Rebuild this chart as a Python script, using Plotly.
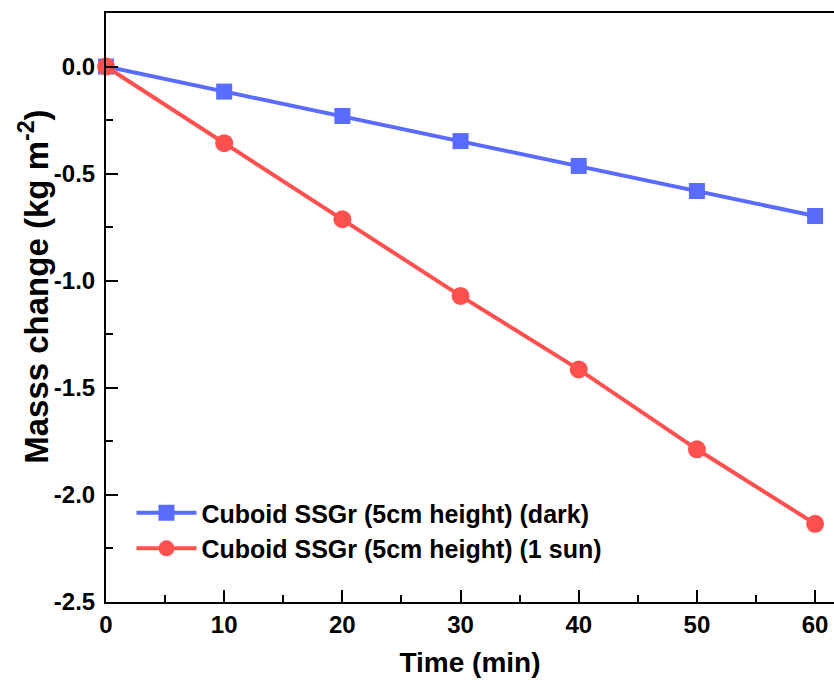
import plotly.graph_objects as go

# Evaporation test: mass change over time for a 5 cm cuboid SSGr
time_min = [0, 10, 20, 30, 40, 50, 60]
mass_dark = [0.0, -0.117, -0.231, -0.348, -0.464, -0.581, -0.698]
mass_sun = [0.0, -0.358, -0.713, -1.071, -1.414, -1.787, -2.135]

name_dark = "Cuboid SSGr (5cm height) (dark)"
name_sun = "Cuboid SSGr (5cm height) (1 sun)"

x_ticks = [0, 10, 20, 30, 40, 50, 60]
y_ticks = [0.0, -0.5, -1.0, -1.5, -2.0, -2.5]
y_tick_text = ["0.0", "-0.5", "-1.0", "-1.5", "-2.0", "-2.5"]

BLUE = "#5a6bff"
RED = "#ff5050"
FONT = "Liberation Sans, Arial, sans-serif"

fig = go.Figure()
fig.add_trace(go.Scatter(
    x=time_min, y=mass_dark, name=name_dark, mode="lines+markers",
    line=dict(color=BLUE, width=4),
    marker=dict(symbol="square", size=16, color=BLUE),
    cliponaxis=False,
))
fig.add_trace(go.Scatter(
    x=time_min, y=mass_sun, name=name_sun, mode="lines+markers",
    line=dict(color=RED, width=4),
    marker=dict(symbol="circle", size=18, color=RED),
    cliponaxis=False,
))

axis_common = dict(
    showline=True, linecolor="black", linewidth=2,
    ticks="inside", ticklen=12, tickwidth=2, tickcolor="black",
    showgrid=False, zeroline=False,
    tickfont=dict(family=FONT, size=24, color="black", weight="bold"),
)

fig.update_xaxes(
    **axis_common,
    range=[0, 61.6], tickvals=x_ticks, mirror=True,
    minor=dict(ticks="inside", ticklen=7, tickwidth=2, tickcolor="black", dtick=5, tick0=0),
    title=dict(text="<b>Time (min)</b>", font=dict(family=FONT, size=28, color="black"), standoff=16),
)
fig.update_yaxes(
    **axis_common,
    range=[-2.5, 0.25], tickvals=y_ticks, ticktext=y_tick_text,
    ticklabelstandoff=4,
    minor=dict(ticks="inside", ticklen=7, tickwidth=2, tickcolor="black", dtick=0.25, tick0=0),
)

# Vertical axis title, placed as a rotated annotation left of the tick labels
fig.add_annotation(
    text="<b>Masss change (kg m<sup>-2</sup>)</b>",
    xref="paper", yref="paper", x=-0.099, y=0.535,
    xanchor="center", yanchor="middle", textangle=-90, showarrow=False,
    font=dict(family=FONT, size=33, color="black"),
)

fig.update_layout(
    width=834, height=691,
    margin=dict(l=106, r=0, t=13, b=89),
    paper_bgcolor="white", plot_bgcolor="white",
    showlegend=True,
    legend=dict(
        x=0.035, y=0.19, xanchor="left", yanchor="top",
        bgcolor="rgba(0,0,0,0)",
        font=dict(family=FONT, size=25, color="black", weight="bold"),
        itemwidth=60, tracegroupgap=0,
    ),
)

fig.write_html("out.html")
